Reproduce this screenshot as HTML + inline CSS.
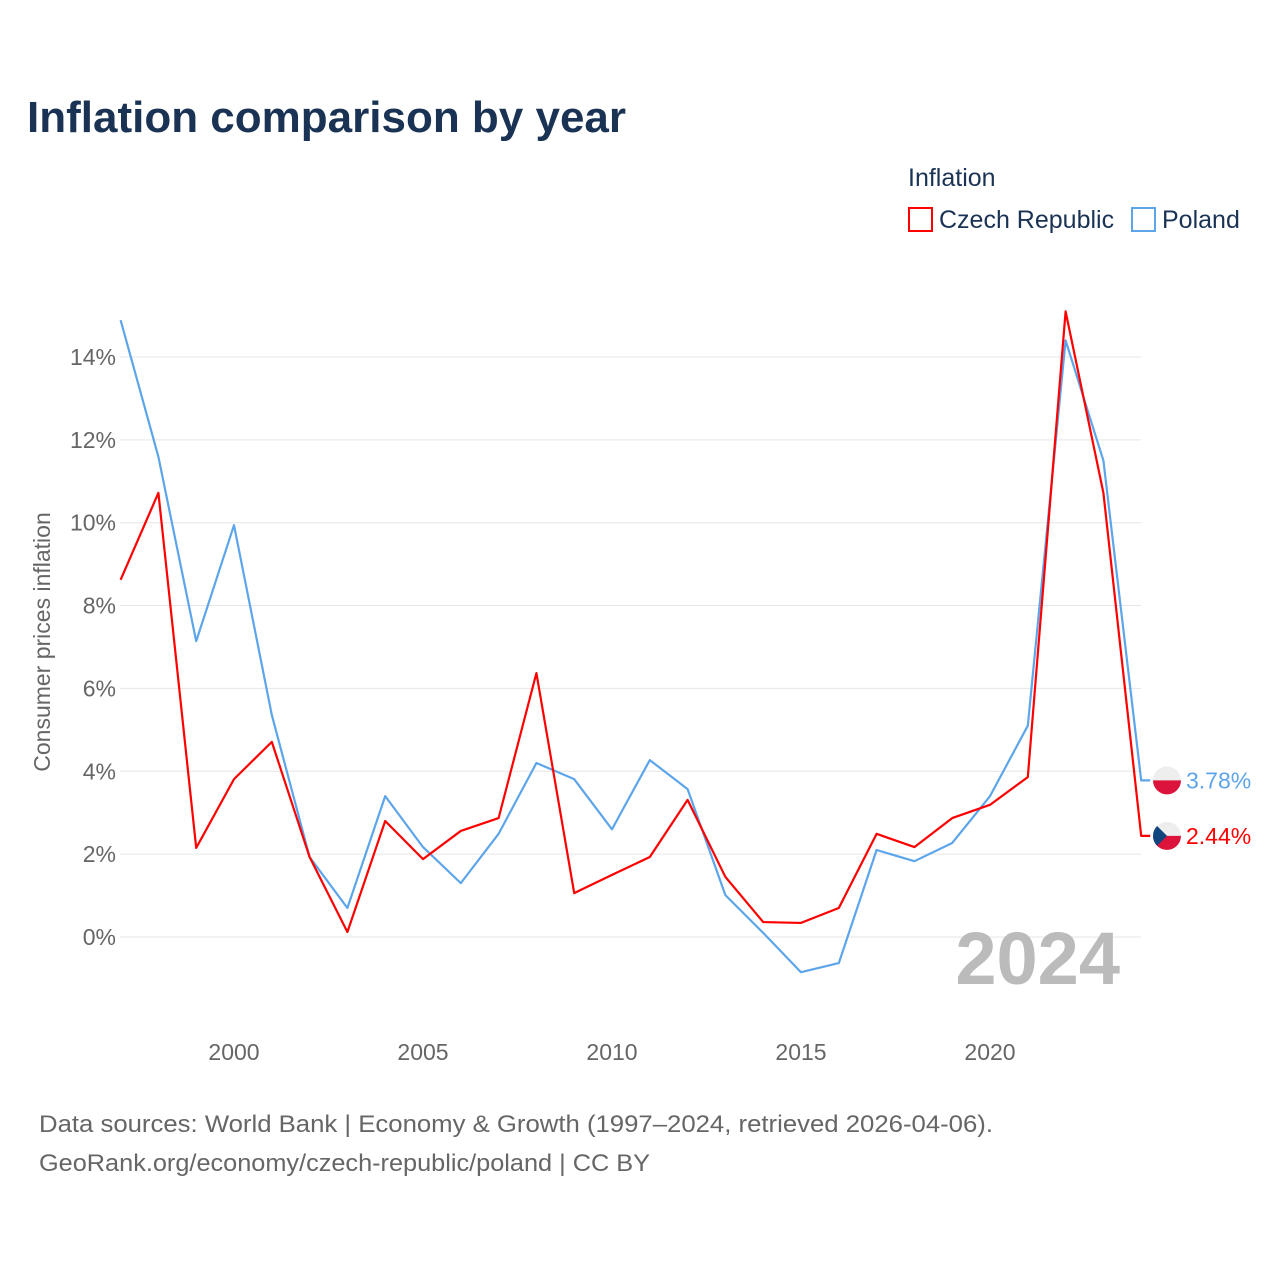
<!DOCTYPE html>
<html><head><meta charset="utf-8"><style>
body{margin:0;background:#fff;font-family:"Liberation Sans",sans-serif}
</style></head><body>
<svg width="1280" height="1280" xmlns="http://www.w3.org/2000/svg" id="chart">
<rect width="1280" height="1280" fill="#fff"/>
<text x="27" y="132" font-size="44" font-weight="bold" fill="#1a3354">Inflation comparison by year</text>
<text x="908" y="186" font-size="25" fill="#1a3354">Inflation</text>
<g><rect x="909" y="208" width="23" height="23" fill="none" stroke="#f00" stroke-width="2"/><text x="939" y="228" font-size="25" fill="#1a3354">Czech Republic</text></g>
<g><rect x="1132" y="208" width="23" height="23" fill="none" stroke="#5da5ea" stroke-width="2"/><text x="1162" y="228" font-size="25" fill="#1a3354">Poland</text></g>
<text transform="translate(50,642) rotate(-90)" text-anchor="middle" font-size="23" fill="#666">Consumer prices inflation</text>
<g id="grid"></g><g id="xt"></g>
<text x="1120" y="984" text-anchor="end" font-size="74" font-weight="bold" fill="#bbb">2024</text>
<g id="series"></g>
<text x="39" y="1132" font-size="24" fill="#666" textLength="954" lengthAdjust="spacingAndGlyphs">Data sources: World Bank | Economy &amp; Growth (1997–2024, retrieved 2026-04-06).</text>
<text x="39" y="1171" font-size="24" fill="#666" textLength="611" lengthAdjust="spacingAndGlyphs">GeoRank.org/economy/czech-republic/poland | CC BY</text>
</svg>
<script>
const years=[1997,1998,1999,2000,2001,2002,2003,2004,2005,2006,2007,2008,2009,2010,2011,2012,2013,2014,2015,2016,2017,2018,2019,2020,2021,2022,2023,2024];
const czech=[8.62,10.72,2.15,3.81,4.71,1.93,0.12,2.80,1.88,2.56,2.87,6.37,1.06,1.50,1.93,3.31,1.45,0.36,0.34,0.70,2.49,2.17,2.87,3.19,3.86,15.1,10.72,2.44];
const poland=[14.89,11.59,7.14,9.94,5.36,1.93,0.70,3.40,2.17,1.30,2.49,4.20,3.81,2.60,4.27,3.57,1.01,0.10,-0.85,-0.63,2.10,1.83,2.27,3.40,5.10,14.40,11.50,3.78];
const yTicks=[0,2,4,6,8,10,12,14];
const xTicks=[2000,2005,2010,2015,2020];
const NS="http://www.w3.org/2000/svg";
const X=y=>234+(y-2000)*37.8, Y=v=>937-v*41.43;
function mk(t,a,p){const e=document.createElementNS(NS,t);for(const k in a)e.setAttribute(k,a[k]);p.appendChild(e);return e;}
const g=document.getElementById('grid');
yTicks.forEach(v=>{
 const l=mk('line',{x1:120,x2:1141,y1:Y(v),y2:Y(v),stroke:'#e6e6e6','stroke-width':1},g);
 
 
 const t=mk('text',{x:116,y:Y(v)+8,'text-anchor':'end','font-size':23,fill:'#666'},g);
 
 
 t.textContent=v+'%';
});
const xt=document.getElementById('xt');
xTicks.forEach(v=>{
 const t=mk('text',{x:X(v),y:1060,'text-anchor':'middle','font-size':23,fill:'#666'},xt);
 
 
 t.textContent=v;
});
const s=document.getElementById('series');
function line(data,color,name){
 const pts=data.map((v,i)=>X(years[i])+','+Y(v));
 const last=data[data.length-1];
 pts.push((X(2024)+9)+','+Y(last));
 const p=mk('polyline',{points:pts.join(' '),fill:'none',stroke:color,'stroke-width':2.2,'stroke-linejoin':'round'},s);
 
 
 const t=mk('text',{x:1186,y:Y(last)+8,'font-size':23,fill:color},s);
 
 
 t.textContent=last.toFixed(2)+'%';
 return Y(last);
}
const yp=line(poland,'#5da5ea','poland');
const yc=line(czech,'#f00','czech');
function flag(cy,czechFlag,name){
 const gg=mk('g',{},s);
 
 
 mk('circle',{cx:1167,cy:cy,r:14,fill:'#eee'},gg);
 mk('path',{d:`M1153 ${cy} A14 14 0 0 0 1181 ${cy} Z`,fill:'#dc143c'},gg);
 if(czechFlag)mk('path',{d:`M1157.1 ${cy-9.9} L1167 ${cy} L1157.1 ${cy+9.9} A14 14 0 0 1 1157.1 ${cy-9.9} Z`,fill:'#11457e'},gg);
}
flag(yp,false,'poland-flag');
flag(yc,true,'czech-flag');
</script>
</body></html>
